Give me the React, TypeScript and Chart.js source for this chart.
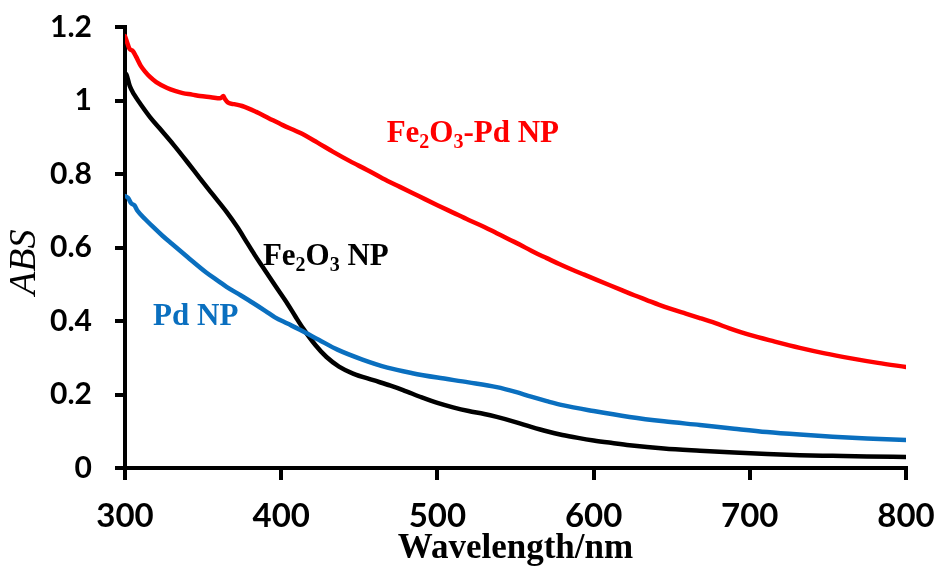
import React, { useEffect, useRef } from "react";
import { Chart, registerables } from "chart.js";

Chart.register(...registerables);

// Fe2O3-Pd NP (red)
const redWl = [300, 302, 303, 305, 307, 310, 313, 316, 320, 327, 332, 337, 343, 348, 355, 361, 363, 364, 366, 370, 375, 384, 392, 401, 412, 423, 433, 444, 455, 465, 476, 488, 500, 510, 520, 530, 538, 546, 555, 562, 570, 578, 586, 594, 602, 610, 618, 626, 634, 642, 650, 659, 668, 678, 687, 700, 716, 732, 748, 764, 782, 800];
const redAbs = [1.175, 1.15, 1.14, 1.135, 1.12, 1.095, 1.078, 1.064, 1.05, 1.034, 1.026, 1.02, 1.016, 1.012, 1.009, 1.006, 1.012, 1.004, 0.994, 0.99, 0.985, 0.969, 0.952, 0.933, 0.912, 0.886, 0.861, 0.835, 0.811, 0.788, 0.765, 0.74, 0.715, 0.695, 0.675, 0.656, 0.639, 0.622, 0.603, 0.587, 0.571, 0.555, 0.54, 0.526, 0.512, 0.498, 0.484, 0.47, 0.457, 0.444, 0.432, 0.42, 0.408, 0.394, 0.38, 0.362, 0.344, 0.327, 0.312, 0.299, 0.286, 0.275];

// Fe2O3 NP (black)
const blackWl = [300, 301, 303, 306, 310, 316, 322, 331, 340, 348, 356, 365, 372, 378, 383, 388, 396, 404, 409, 414, 422, 429, 437, 446, 459, 470, 478, 490, 500, 510, 520, 530, 538, 550, 560, 570, 580, 590, 600, 612, 623, 645, 668, 690, 711, 732, 753, 775, 800];
const blackAbs = [1.075, 1.07, 1.04, 1.015, 0.99, 0.955, 0.925, 0.88, 0.832, 0.788, 0.745, 0.697, 0.655, 0.614, 0.58, 0.548, 0.497, 0.447, 0.413, 0.38, 0.334, 0.302, 0.276, 0.257, 0.239, 0.224, 0.212, 0.192, 0.177, 0.165, 0.155, 0.147, 0.139, 0.125, 0.112, 0.1, 0.09, 0.082, 0.075, 0.068, 0.062, 0.053, 0.047, 0.042, 0.038, 0.035, 0.033, 0.031, 0.03];

// Pd NP (blue)
const blueWl = [300, 302, 304, 306, 308, 313, 318, 324, 330, 340, 352, 360, 365, 374, 382, 390, 396, 404, 412, 424, 436, 452, 468, 484, 500, 520, 538, 550, 560, 570, 580, 600, 623, 645, 668, 690, 711, 732, 753, 775, 800];
const blueAbs = [0.74, 0.735, 0.72, 0.715, 0.7, 0.677, 0.656, 0.632, 0.61, 0.574, 0.532, 0.508, 0.493, 0.47, 0.449, 0.427, 0.41, 0.393, 0.376, 0.349, 0.322, 0.295, 0.273, 0.258, 0.246, 0.233, 0.22, 0.207, 0.194, 0.182, 0.171, 0.155, 0.139, 0.127, 0.117, 0.107, 0.098, 0.091, 0.085, 0.08, 0.076];

const xRange = [300, 800];
const yRange = [0, 1.2];
const xStep = 100;
const yStep = 0.2;

type Part = { t: string; sub?: boolean };
const seriesLabels: { parts: Part[]; color: string; wl: number; abs: number }[] = [
  { parts: [{ t: "Fe" }, { t: "2", sub: true }, { t: "O" }, { t: "3", sub: true }, { t: "-Pd NP" }], color: "#ff0000", wl: 467.5, abs: 0.887 },
  { parts: [{ t: "Fe" }, { t: "2", sub: true }, { t: "O" }, { t: "3", sub: true }, { t: " NP" }], color: "#000000", wl: 388.3, abs: 0.552 },
  { parts: [{ t: "Pd NP" }], color: "#0a6fbf", wl: 318, abs: 0.389 },
];

const toPts = (xs: number[], ys: number[]) => xs.map((x, i) => ({ x, y: ys[i] }));

export default function App() {
  const ref = useRef<HTMLCanvasElement>(null);

  useEffect(() => {
    const labelPlugin = {
      id: "seriesLabels",
      afterDatasetsDraw(chart: any) {
        const ctx = chart.ctx as CanvasRenderingContext2D;
        const xs = chart.scales.x;
        const ys = chart.scales.y;
        const size = 31;
        ctx.save();
        ctx.textBaseline = "alphabetic";
        ctx.textAlign = "left";
        for (const lab of seriesLabels) {
          let x = xs.getPixelForValue(lab.wl);
          const y = ys.getPixelForValue(lab.abs);
          ctx.fillStyle = lab.color;
          for (const p of lab.parts) {
            const fs = p.sub ? Math.round(size * 0.65) : size;
            ctx.font = `bold ${fs}px "Liberation Serif", "Times New Roman", serif`;
            ctx.fillText(p.t, x, p.sub ? y + size * 0.2 : y);
            x += ctx.measureText(p.t).width;
          }
        }
        // y axis title
        const area = chart.chartArea;
        ctx.translate(area.left - 100, ys.getPixelForValue(0.56));
        ctx.rotate(-Math.PI / 2);
        ctx.textAlign = "center";
        ctx.textBaseline = "middle";
        ctx.fillStyle = "#000";
        ctx.font = `italic 38px "Liberation Serif", "Times New Roman", serif`;
        ctx.fillText("ABS", 0, 0);
        ctx.restore();
      },
    };

    const lineStyle = { borderWidth: 4.5, pointRadius: 0, cubicInterpolationMode: "monotone", fill: false };

    const chart = new Chart(ref.current as HTMLCanvasElement, {
      type: "line",
      data: {
        datasets: [
          { label: "Pd NP", data: toPts(blueWl, blueAbs), borderColor: "#0a6fbf", ...lineStyle },
          { label: "Fe2O3 NP", data: toPts(blackWl, blackAbs), borderColor: "#000000", ...lineStyle },
          { label: "Fe2O3-Pd NP", data: toPts(redWl, redAbs), borderColor: "#ff0000", ...lineStyle },
        ],
      },
      options: {
        responsive: false,
        animation: false,
        layout: { padding: { top: 27, right: 31, left: 0, bottom: 0 } },
        plugins: { legend: { display: false }, tooltip: { enabled: false } },
        elements: { line: { borderJoinStyle: "round", borderCapStyle: "round" } },
        scales: {
          x: {
            type: "linear",
            min: xRange[0],
            max: xRange[1],
            ticks: { stepSize: xStep, color: "#000", padding: 17, font: { family: "Lato", size: 33, weight: "bold" } },
            grid: { drawOnChartArea: false, drawTicks: true, tickLength: 12, lineWidth: 4, color: "#000" },
            border: { display: true, width: 4, color: "#000" },
            title: { display: true, text: "Wavelength/nm", color: "#000", padding: { top: 0, bottom: 0 }, font: { family: "Liberation Serif", size: 35, weight: "bold", lineHeight: 1 } },
            afterFit: (s: any) => { s.height = 98; s.paddingLeft = 0; s.paddingRight = 0; },
          },
          y: {
            min: yRange[0],
            max: yRange[1],
            ticks: {
              stepSize: yStep,
              color: "#000",
              padding: 23,
              font: { family: "Lato", size: 30, weight: "bold" },
              callback: (v: any) => String(Number(Number(v).toFixed(1))),
            },
            grid: { drawOnChartArea: false, drawTicks: true, tickLength: 10, lineWidth: 4, color: "#000" },
            border: { display: true, width: 4, color: "#000" },
            afterFit: (s: any) => { s.width = 125; s.paddingTop = 0; s.paddingBottom = 0; },
          },
        },
      } as any,
      plugins: [labelPlugin],
    });
    return () => chart.destroy();
  }, []);

  return (
    <div style={{ position: "absolute", left: 0, top: 0, width: 937, height: 566, background: "#fff" }}>
      <canvas ref={ref} width={937} height={566} style={{ display: "block" }} />
    </div>
  );
}
